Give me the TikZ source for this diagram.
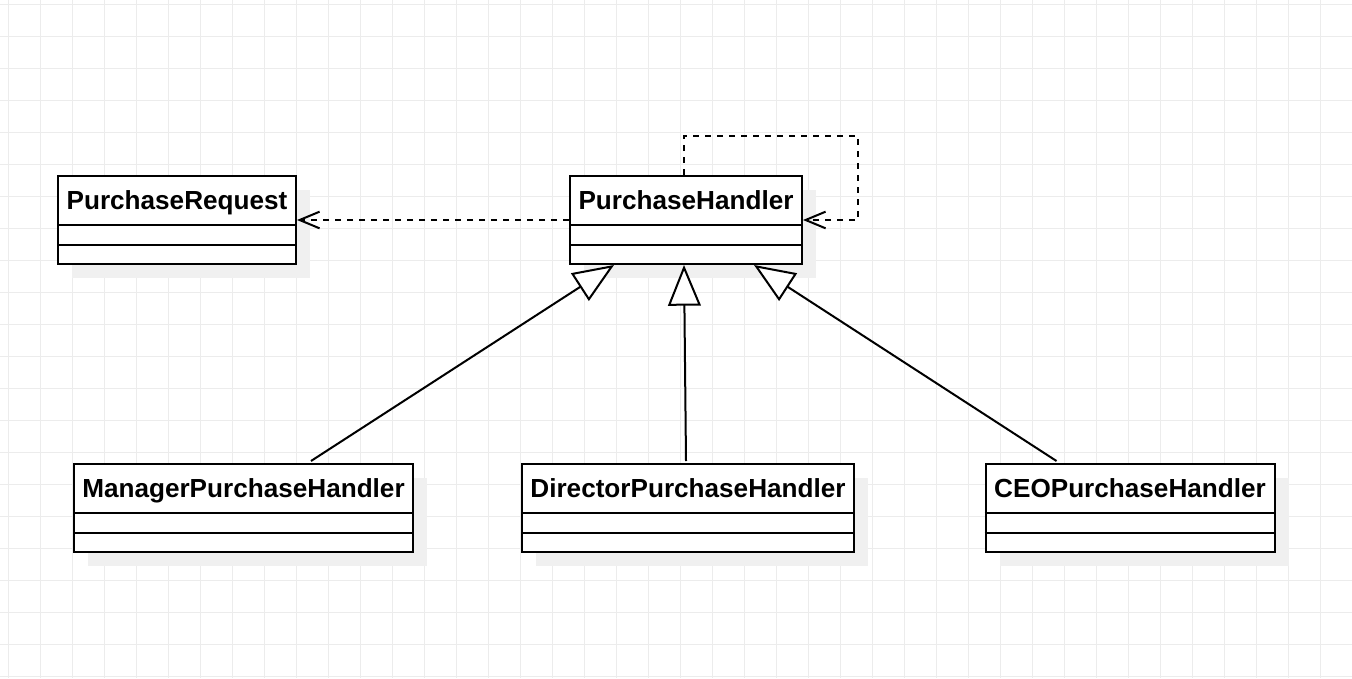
\documentclass[tikz,border=0pt]{standalone}
\usepackage{fontspec}
\setmainfont{Liberation Sans}
\usetikzlibrary{arrows.meta,calc}
\definecolor{gridc}{RGB}{236,236,236}
\definecolor{shadowc}{RGB}{240,240,240}
\tikzset{
  clsbox/.style={draw=black, fill=white, line width=1.5pt, inner sep=0pt, rectangle},
  clstitle/.style={font=\fontsize{19.6}{23}\selectfont\bfseries, inner sep=0pt, anchor=base},
  sepline/.style={line width=1.5pt},
  shadowbox/.style={fill=shadowc},
  dep/.style={line width=1.5pt, dash pattern=on 4.5pt off 4.5pt, -{Straight Barb[length=15pt,width=12.5pt,line width=1.5pt]}},
  gen/.style={line width=1.5pt, -{Triangle[length=30.5pt,width=24.5pt,fill=white,line width=1.5pt]}},
}
\begin{document}
\begin{tikzpicture}[x=0.75pt,y=-0.75pt]
\useasboundingbox (0,0) rectangle (1352,678);
\fill[white] (0,0) rectangle (1352,678);
% grid
\foreach \gx in {8,40,...,1352} \draw[gridc, line width=0.75pt] (\gx,0) -- (\gx,678);
\foreach \gy in {4,36,...,678} \draw[gridc, line width=0.75pt] (0,\gy) -- (1352,\gy);
% shadows
\fill[shadowbox] (72,190) rectangle (310,278);
\fill[shadowbox] (584,190) rectangle (816,278);
\fill[shadowbox] (88,478) rectangle (427,566);
\fill[shadowbox] (536,478) rectangle (868,566);
\fill[shadowbox] (1000,478) rectangle (1289,566);
% classes
\node[clsbox, minimum width=178.5pt, minimum height=66pt] (req) at (177,220) {};
\node[clsbox, minimum width=174pt, minimum height=66pt] (ph) at (686,220) {};
\node[clsbox, minimum width=254.25pt, minimum height=66pt] (mgr) at (243.5,508) {};
\node[clsbox, minimum width=249pt, minimum height=66pt] (dir) at (688,508) {};
\node[clsbox, minimum width=216.75pt, minimum height=66pt] (ceo) at (1130,508) {};
\foreach \n/\t in {req/PurchaseRequest, ph/PurchaseHandler, mgr/ManagerPurchaseHandler, dir/DirectorPurchaseHandler, ceo/CEOPurchaseHandler}{
  \node[clstitle] (\n-t) at ($(\n.north)+(0,34.5)$) {\t};
  \draw[sepline] ($(\n.north west)+(0,50)$) -- ($(\n.north east)+(0,50)$);
  \draw[sepline] ($(\n.north west)+(0,70)$) -- ($(\n.north east)+(0,70)$);
}
% dependencies
\draw[dep] (ph.west) -- (req.east);
\coordinate (loop) at (858,136);
\draw[dep] ($(ph.north)+(-2,0)$) |- (loop) |- (ph.east);
% generalizations
\draw[gen] ($(mgr.north west)+(238,-2)$) -- ($(ph.south west)+(45,0)$);
\draw[gen] ($(dir.north)+(-2,-2)$) -- ($(ph.south)+(-2,0)$);
\draw[gen] ($(ceo.north west)+(72,-2)$) -- ($(ph.south west)+(185,0)$);
\end{tikzpicture}
\end{document}
